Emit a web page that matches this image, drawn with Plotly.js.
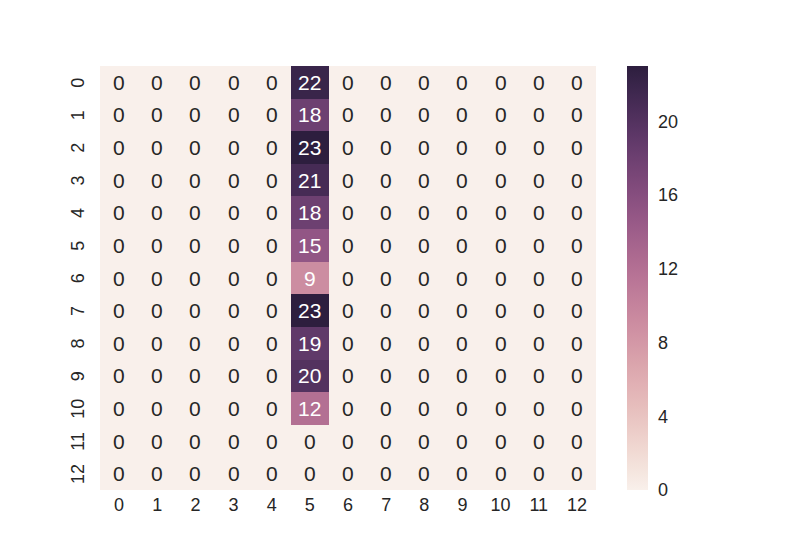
<!DOCTYPE html>
<html>
<head>
<meta charset="utf-8">
<script src="https://cdn.plot.ly/plotly-3.0.1.min.js"></script>
<style>html,body{margin:0;padding:0;background:#fff;}#chart{width:800px;height:550px;}</style>
</head>
<body>
<div id="chart"></div>
<script>
const colLabels = [0,1,2,3,4,5,6,7,8,9,10,11,12];
const rowLabels = [0,1,2,3,4,5,6,7,8,9,10,11,12];
const z = [
  [0,0,0,0,0,22,0,0,0,0,0,0,0],
  [0,0,0,0,0,18,0,0,0,0,0,0,0],
  [0,0,0,0,0,23,0,0,0,0,0,0,0],
  [0,0,0,0,0,21,0,0,0,0,0,0,0],
  [0,0,0,0,0,18,0,0,0,0,0,0,0],
  [0,0,0,0,0,15,0,0,0,0,0,0,0],
  [0,0,0,0,0,9,0,0,0,0,0,0,0],
  [0,0,0,0,0,23,0,0,0,0,0,0,0],
  [0,0,0,0,0,19,0,0,0,0,0,0,0],
  [0,0,0,0,0,20,0,0,0,0,0,0,0],
  [0,0,0,0,0,12,0,0,0,0,0,0,0],
  [0,0,0,0,0,0,0,0,0,0,0,0,0],
  [0,0,0,0,0,0,0,0,0,0,0,0,0]
];
const cbTicks = [0,4,8,12,16,20];

// seaborn cubehelix_palette(light=.95, as_cmap=True)
function cubehelix(lam){
  const s=0, r=0.4, h=0.8;
  const a = h*lam*(1-lam)/2;
  const phi = 2*Math.PI*(s/3 + r*lam);
  const c = Math.cos(phi), sn = Math.sin(phi);
  const R = lam + a*(-0.14861*c + 1.78277*sn);
  const G = lam + a*(-0.29227*c - 0.90649*sn);
  const B = lam + a*(1.97294*c);
  const cl = v => Math.round(Math.max(0,Math.min(1,v))*255);
  return [cl(R),cl(G),cl(B)];
}
const colorscale = [];
for(let i=0;i<=20;i++){
  const t=i/20; const rgb=cubehelix(0.95-0.8*t);
  colorscale.push([t,'rgb('+rgb.join(',')+')']);
}
const zmin=0, zmax=23;
function lum(rgb){
  const f=v=>{v/=255;return v<=0.03928?v/12.92:Math.pow((v+0.055)/1.055,2.4);};
  return 0.2126*f(rgb[0])+0.7152*f(rgb[1])+0.0722*f(rgb[2]);
}
const FONT='Liberation Sans, Arial, sans-serif';
const annotations=[];
z.forEach((row,i)=>row.forEach((v,j)=>{
  const rgb=cubehelix(0.95-0.8*((v-zmin)/(zmax-zmin)));
  annotations.push({x:colLabels[j],y:rowLabels[i],xref:'x',yref:'y',text:String(v),showarrow:false,
    font:{family:FONT,size:21,color:lum(rgb)>0.408?'#262626':'#ffffff'}});
}));

const trace={type:'heatmap',x:colLabels,y:rowLabels,z:z,zmin:zmin,zmax:zmax,colorscale:colorscale,
  hoverinfo:'skip',
  colorbar:{x:1.0625,xanchor:'left',xpad:0,y:0.5,yanchor:'middle',len:1,lenmode:'fraction',ypad:0,
    thickness:21,outlinewidth:0,tickvals:cbTicks,ticktext:cbTicks.map(String),ticks:'outside',ticklen:7,tickcolor:'rgba(0,0,0,0)',
    tickfont:{family:FONT,size:18,color:'#262626'}}};

const layout={width:800,height:550,margin:{l:100,r:204,t:66,b:60},paper_bgcolor:'#fff',plot_bgcolor:'#fff',
  font:{family:FONT,color:'#262626'},
  xaxis:{range:[-0.5,12.5],tickvals:colLabels,ticktext:colLabels.map(String),showgrid:false,zeroline:false,ticks:'',
    tickfont:{size:18,color:'#262626'},ticklabelstandoff:2,fixedrange:true},
  yaxis:{range:[12.5,-0.5],tickvals:rowLabels,ticktext:rowLabels.map(String),showgrid:false,zeroline:false,
    ticks:'outside',ticklen:8,tickcolor:'rgba(0,0,0,0)',
    tickangle:-90,tickfont:{size:18,color:'#262626'},ticklabelshift:-3,fixedrange:true},
  annotations:annotations};
Plotly.newPlot('chart',[trace],layout,{displayModeBar:false,staticPlot:true});
</script>
</body>
</html>
